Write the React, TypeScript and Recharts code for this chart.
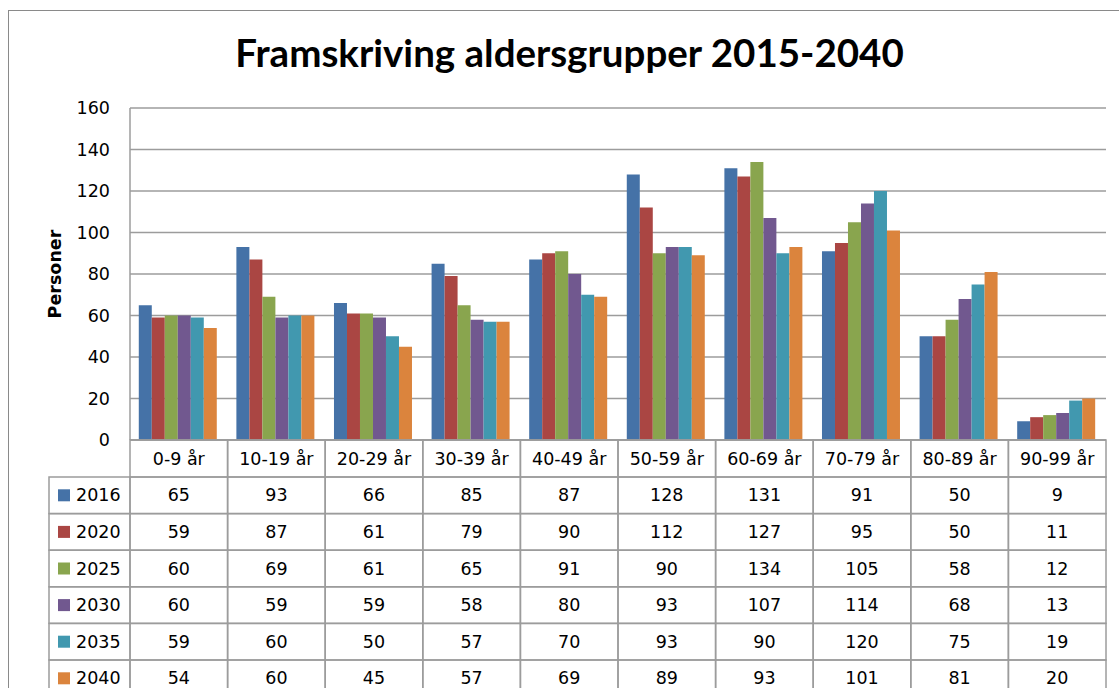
import React from "react"
import { BarChart, Bar, XAxis, YAxis, CartesianGrid } from "recharts"

const categories = [
  "0-9 år",
  "10-19 år",
  "20-29 år",
  "30-39 år",
  "40-49 år",
  "50-59 år",
  "60-69 år",
  "70-79 år",
  "80-89 år",
  "90-99 år",
]

const years = ["2016", "2020", "2025", "2030", "2035", "2040"]

const v2016 = [65, 93, 66, 85, 87, 128, 131, 91, 50, 9]
const v2020 = [59, 87, 61, 79, 90, 112, 127, 95, 50, 11]
const v2025 = [60, 69, 61, 65, 91, 90, 134, 105, 58, 12]
const v2030 = [60, 59, 59, 58, 80, 93, 107, 114, 68, 13]
const v2035 = [59, 60, 50, 57, 70, 93, 90, 120, 75, 19]
const v2040 = [54, 60, 45, 57, 69, 89, 93, 101, 81, 20]

const yTicks = [0, 20, 40, 60, 80, 100, 120, 140, 160]

const seriesValues = [v2016, v2020, v2025, v2030, v2035, v2040]
const colors = ["#4572A7", "#AA4643", "#89A54E", "#71588F", "#4198AF", "#DB843D"]

const data = categories.map((name, i) => {
  const row: Record<string, string | number> = { name }
  years.forEach((y, s) => {
    row[y] = seriesValues[s][i]
  })
  return row
})

const W = 1119
const H = 710
const margin = { top: 108, right: 13, bottom: 0, left: 8 }
const yAxisW = 122
const plotW = W - margin.left - margin.right - yAxisW
const band = plotW / categories.length
const headerH = 37
const rowH = 36.6
const legendLeft = 49
const lineColor = "#9c9c9c"
const font = "'DejaVu Sans', Verdana, sans-serif"

// each x tick draws one column of the data table; the first one also draws the legend column
function TableTick(props: any) {
  const { x, y, payload } = props
  const idx = payload.index ?? categories.indexOf(payload.value)
  const left = x - band / 2
  const cells = []
  cells.push(
    <rect key="h" x={left} y={y} width={band} height={headerH} fill="none" stroke={lineColor} strokeWidth={1.5} />
  )
  cells.push(
    <text key="ht" x={x} y={y + headerH / 2 + 6} textAnchor="middle" fontSize={17.5} fill="#000" fontFamily={font}>
      {payload.value}
    </text>
  )
  years.forEach((yr, s) => {
    const top = y + headerH + s * rowH
    cells.push(
      <rect key={"r" + s} x={left} y={top} width={band} height={rowH} fill="none" stroke={lineColor} strokeWidth={1.5} />
    )
    cells.push(
      <text key={"t" + s} x={x} y={top + rowH / 2 + 6} textAnchor="middle" fontSize={17.5} fill="#000" fontFamily={font}>
        {seriesValues[s][idx]}
      </text>
    )
    if (idx === 0) {
      cells.push(
        <rect key={"l" + s} x={legendLeft} y={top} width={left - legendLeft} height={rowH} fill="none" stroke={lineColor} strokeWidth={1.5} />
      )
      cells.push(
        <rect key={"sw" + s} x={legendLeft + 9} y={top + rowH / 2 - 6} width={12} height={12} fill={colors[s]} />
      )
      cells.push(
        <text key={"lt" + s} x={legendLeft + 27} y={top + rowH / 2 + 6} fontSize={17.5} fill="#000" fontFamily={font}>
          {yr}
        </text>
      )
    }
  })
  return <g>{cells}</g>
}

function YLabel(props: any) {
  const { viewBox } = props
  const cy = viewBox.y + viewBox.height / 2
  const cx = 55
  return (
    <text
      x={cx}
      y={cy}
      transform={`rotate(-90 ${cx} ${cy})`}
      textAnchor="middle"
      dominantBaseline="central"
      fontSize={17.5}
      fontWeight="bold"
      fontFamily={font}
      fill="#000"
    >
      Personer
    </text>
  )
}

export default function App() {
  return (
    <div
      style={{
        position: "absolute",
        left: 0,
        top: 0,
        width: W,
        height: 688,
        overflow: "hidden",
        background: "#fff",
      }}
    >
      <div
        style={{
          position: "absolute",
          left: 8,
          top: 10,
          width: 1200,
          height: 800,
          border: "1.5px solid #8a8a8a",
        }}
      />
      <div
        style={{
          position: "absolute",
          left: 0,
          top: 29,
          width: 1139,
          textAlign: "center",
          fontFamily: "Lato, sans-serif",
          fontWeight: "bold",
          fontSize: 38.5,
          color: "#000",
        }}
      >
        Framskriving aldersgrupper 2015-2040
      </div>
      <div style={{ position: "absolute", left: 0, top: 0 }}>
        <BarChart
          width={W}
          height={H}
          data={data}
          margin={margin}
          barCategoryGap="9%"
          barGap={0}
        >
          <CartesianGrid vertical={false} stroke={lineColor} strokeWidth={1.5} />
          <XAxis
            dataKey="name"
            height={H - margin.top - 332}
            tickLine={false}
            tickSize={0}
            tickMargin={0}
            axisLine={{ stroke: lineColor, strokeWidth: 1.5 }}
            interval={0}
            tick={<TableTick />}
          />
          <YAxis
            width={yAxisW}
            domain={[0, 160]}
            ticks={yTicks}
            tickLine={false}
            tickSize={0}
            tickMargin={20}
            axisLine={{ stroke: lineColor, strokeWidth: 1.5 }}
            tick={{ fontSize: 17.5, fill: "#000", fontFamily: font }}
            label={<YLabel />}
          />
          {years.map((yr, s) => (
            <Bar key={yr} dataKey={yr} fill={colors[s]} isAnimationActive={false} />
          ))}
        </BarChart>
      </div>
    </div>
  )
}
